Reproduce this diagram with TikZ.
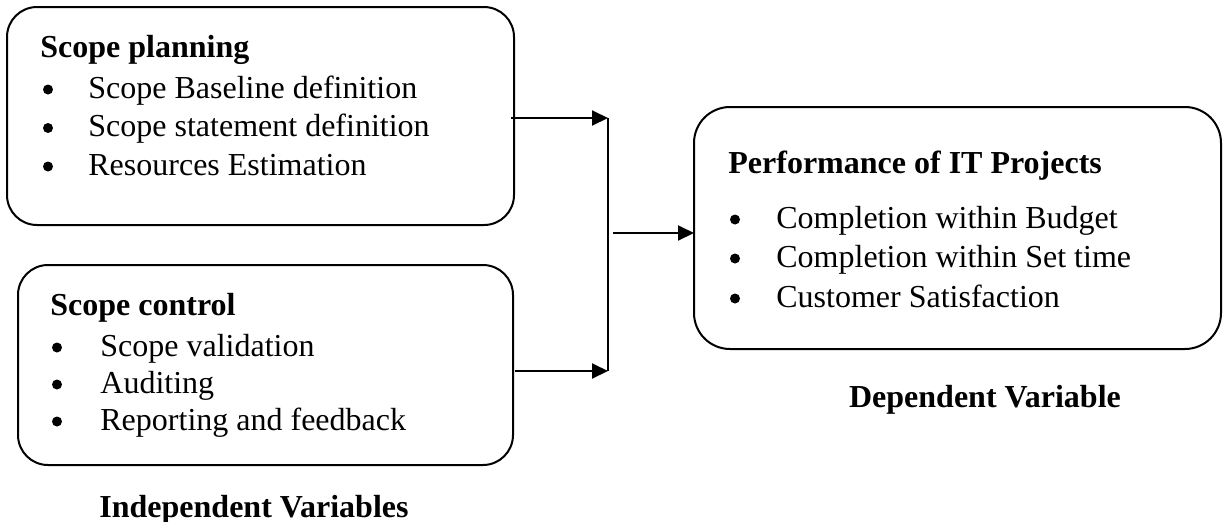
\documentclass[tikz,border=0pt]{standalone}
\usepackage{fontspec}
\setmainfont{Liberation Serif}
\usetikzlibrary{arrows.meta}
\begin{document}
\begin{tikzpicture}[x=0.5pt,y=-0.5pt,
  box/.style={draw, line width=1pt, rounded corners=15pt, inner sep=0pt, outer sep=0pt},
  txt/.style={anchor=base west, inner sep=0pt, font=\fontsize{16}{19}\selectfont},
  head/.style={txt, font=\fontsize{16}{19}\selectfont\bfseries},
  bul/.style={circle, fill, inner sep=0pt, minimum size=5pt},
  captext/.style={anchor=base, inner sep=0pt, font=\fontsize{16}{19}\selectfont\bfseries},
  arr/.style={line width=1pt, -{Triangle[length=8pt,width=7.5pt]}},
  ln/.style={line width=0.9pt}]
\useasboundingbox (0,0) rectangle (1223,521);

% boxes
\node[box, minimum width=253.5pt, minimum height=109pt] (box1) at (260.5,116) {};
\node[box, minimum width=247.5pt, minimum height=100pt] (box2) at (265.5,365) {};
\node[box, rounded corners=18pt, minimum width=263.5pt, minimum height=121pt] (box3) at (957.5,228) {};

% box 1 text
\node[head] (h1) at (40,57) {Scope planning};
\node[bul] (b11) at (48,89.5) {};
\node[txt] (t11) at (88,98) {Scope Baseline definition};
\node[bul] (b12) at (48,128) {};
\node[txt] (t12) at (88,136.5) {Scope statement definition};
\node[bul] (b13) at (48,166.5) {};
\node[txt] (t13) at (88,175) {Resources Estimation};

% box 2 text
\node[head] (h2) at (50,315) {Scope control};
\node[bul] (b21) at (57,347.5) {};
\node[txt] (t21) at (100,356) {Scope validation};
\node[bul] (b22) at (57,384.5) {};
\node[txt] (t22) at (100,393) {Auditing};
\node[bul] (b23) at (57,421.5) {};
\node[txt] (t23) at (100,430) {Reporting and feedback};

% box 3 text
\node[head] (h3) at (728,173) {Performance of IT Projects};
\node[bul] (b31) at (735,219.5) {};
\node[txt] (t31) at (776,228) {Completion within Budget};
\node[bul] (b32) at (735,258.5) {};
\node[txt] (t32) at (776,267) {Completion within Set time};
\node[bul] (b33) at (735,298.5) {};
\node[txt] (t33) at (776,307) {Customer Satisfaction};

% captions
\node[captext] (indep) at (254,517) {Independent Variables};
\node[captext] (dep) at (985,407) {Dependent Variable};

% connectors
\coordinate (j1) at (608,118);
\coordinate (j2) at (608,371);
\coordinate (m) at (613,233);
\draw[arr] ([xshift=-1.5pt]box1.east |- j1) -- (j1);
\draw[arr] ([xshift=1pt]box2.east |- j2) -- (j2);
\draw[ln] (j1) -- (j2);
\draw[arr] (m) -- (box3.west |- m);
\end{tikzpicture}
\end{document}
